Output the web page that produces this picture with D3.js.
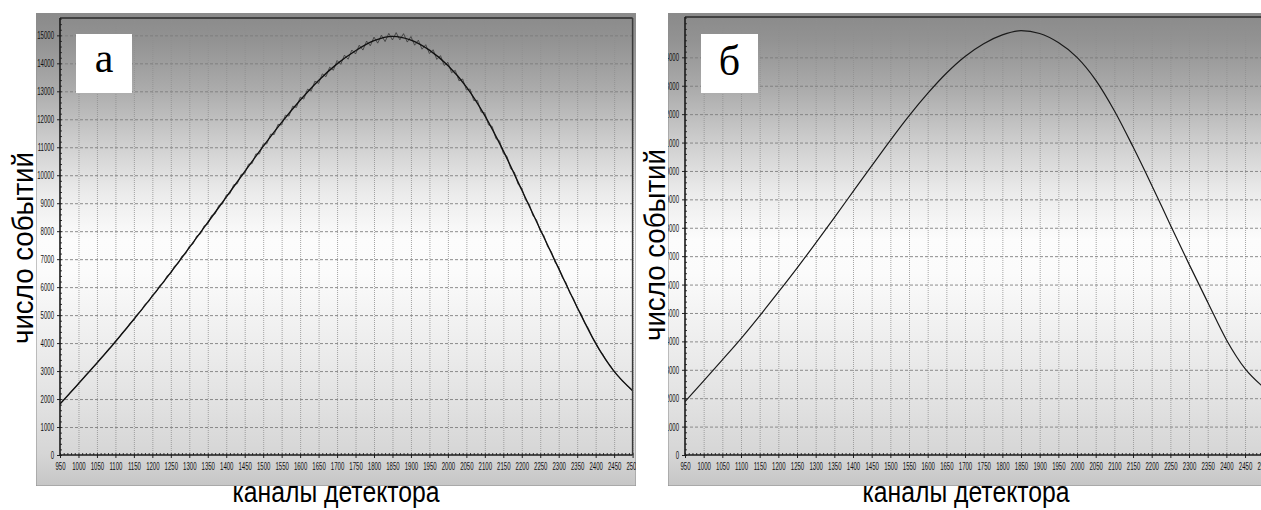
<!DOCTYPE html>
<html><head><meta charset="utf-8">
<script src="https://cdn.jsdelivr.net/npm/d3@7"></script>
<style>html,body{margin:0;padding:0;background:#fff;overflow:hidden}</style>
</head><body><svg id="c" width="1261" height="510"></svg>
<script>
// ---- data ----
const xTicks = [950,1000,1050,1100,1150,1200,1250,1300,1350,1400,1450,1500,1550,1600,1650,1700,1750,1800,1850,1900,1950,2000,2050,2100,2150,2200,2250,2300,2350,2400,2450,2500];
const yTicksA = [0,1000,2000,3000,4000,5000,6000,7000,8000,9000,10000,11000,12000,13000,14000,15000];
const yTicksB = [0,1000,2000,3000,4000,5000,6000,7000,8000,9000,10000,11000,12000,13000,14000];
// panel а: smooth core of the measured spectrum (one value per 50 channels)
const meanA = [1820,2550,3290,4050,4850,5680,6530,7410,8310,9220,10130,11030,11890,12680,13390,13980,14450,14810,14965,14830,14470,13920,13160,12130,10870,9470,8060,6660,5280,3990,2990,2300];
// panel а: noisy counts, one value per 10 channels from 950 to 2500
const noisyA = [
 1820,1978,2102,2273,2396,  2564,2686,2864,2979,3152,  3272,3462,3580,3768,3878,
 4075,4190,4398,4506,4720,  4820,5051,5157,5388,5479,  5720,5815,6065,6150,6410,
 6485,6756,6842,7113,7184,  7465,7540,7830,7895,8190,  8250,8557,8619,8926,8973,
 9290,9337,9659,9696,10028,  10050,10395,10415,10760,10765,  11120,11122,11469,11456,11818,
 11795,12148,12116,12469,12422,  12785,12722,13074,13011,13363,  13280,13623,13521,13864,13752,
 14100,13964,14293,14147,14476,  14335,14647,14474,14796,14628,  14935,14721,15002,14778,15069,
 14835,15097,14840,15060,14760,  14955,14648,14828,14505,14665,  14350,14485,14140,14275,13925,
 14035,13665,13750,13375,13440,  13050,13080,12670,12675,12255,  12230,11795,11745,11305,11230,
 10780,10680,10230,10115,9675,  9545,9118,8976,8559,8407,  8000,7840,7445,7275,6890,
 6710,6339,6153,5792,5596,  5245,5055,4730,4535,4225,  4015,3755,3585,3347,3190,
 2975,2847,2678,2565,2417,  2300];
const noisyChannels = d3.range(950, 2501, 10);
// panel б: smooth fitted curve (one value per 50 channels)
const meanB = [1880,2610,3350,4100,4900,5730,6580,7460,8360,9270,10180,11080,11940,12730,13440,14030,14480,14790,14940,14840,14520,14000,13200,12120,10850,9500,8100,6720,5380,4060,3040,2380];
const yTitle = "число событий";
const xTitle = "каналы детектора";

const svg = d3.select("#c");
const defs = svg.append("defs");
const grad = defs.append("linearGradient").attr("id","bg").attr("x1",0).attr("y1",0).attr("x2",0).attr("y2",1);
[[0,"#8a8a8a"],[0.06,"#939393"],[0.16,"#ababab"],[0.27,"#cdcdcd"],[0.38,"#ebebeb"],[0.48,"#fcfcfc"],[0.55,"#fbfbfb"],[0.68,"#efefef"],[0.82,"#e2e2e2"],[0.93,"#d6d6d6"],[1,"#c6c6c6"]]
  .forEach(([o,c]) => grad.append("stop").attr("offset",o).attr("stop-color",c));

const SX = 0.55; // horizontal squeeze of the tick labels (condensed font look)

function panel(id, cfg) {
  const {fx0, fx1, fy0, fy1, px0, px1, pt, pb, ymax, yTicks, letter, letterBox, letterBase, ytx, yty, xtx} = cfg;
  defs.append("clipPath").attr("id","f"+id).append("rect").attr("x",fx0).attr("y",fy0).attr("width",fx1-fx0).attr("height",fy1-fy0);
  defs.append("clipPath").attr("id","p"+id).append("rect").attr("x",px0).attr("y",pt).attr("width",px1-px0).attr("height",pb-pt);
  const g = svg.append("g").attr("clip-path",`url(#f${id})`);
  g.append("rect").attr("x",fx0).attr("y",fy0).attr("width",fx1-fx0).attr("height",fy1-fy0)
    .attr("fill","url(#bg)").attr("stroke","#8c8c8c").attr("stroke-width",1);
  const x = d3.scaleLinear().domain([950,2500]).range([px0,px1]);
  const y = d3.scaleLinear().domain([0,ymax]).range([pb,pt]);
  const gx = g.append("g").attr("transform",`translate(0,${pb})`)
    .call(d3.axisBottom(x).tickValues(xTicks.slice(1)).tickSize(-(pb-pt)).tickFormat(""));
  gx.select(".domain").remove();
  gx.selectAll("line").attr("stroke","#8f8f8f").attr("stroke-width",1).attr("stroke-dasharray","1,1").attr("opacity",0.8);
  const gy = g.append("g").attr("transform",`translate(${px0},0)`)
    .call(d3.axisLeft(y).tickValues(yTicks.slice(1)).tickSize(-(px1-px0)).tickFormat(""));
  gy.select(".domain").remove();
  gy.selectAll("line").attr("stroke","#7a7a7a").attr("stroke-width",1).attr("stroke-dasharray","3,2").attr("opacity",0.85);
  const pg = g.append("g").attr("clip-path",`url(#p${id})`);
  return {g, x, y, pg, draw() {
    const ax = g.append("g").attr("transform",`translate(0,${pb})`)
      .call(d3.axisBottom(x).tickValues(xTicks).tickSize(3).tickPadding(4).tickFormat(d3.format("d")));
    ax.select(".domain").remove();
    ax.selectAll("line").attr("stroke","#222");
    ax.selectAll("text").attr("font-family","Liberation Sans, Arial, sans-serif").attr("font-size",11).attr("fill","#111")
      .attr("transform",`scale(${SX},1)`);
    const axm = g.append("g").attr("transform",`translate(0,${pb})`)
      .call(d3.axisBottom(x).tickValues(d3.range(950,2501,10)).tickSize(-2).tickFormat(""));
    axm.select(".domain").remove();
    axm.selectAll("line").attr("stroke","#333");
    const ay = g.append("g").attr("transform",`translate(${px0},0)`)
      .call(d3.axisLeft(y).tickValues(yTicks).tickSize(3).tickPadding(3).tickFormat(d3.format("d")));
    ay.select(".domain").remove();
    ay.selectAll("line").attr("stroke","#222");
    ay.selectAll("text").attr("font-family","Liberation Sans, Arial, sans-serif").attr("font-size",11).attr("fill","#111")
      .attr("x", -6/SX).attr("transform",`scale(${SX},1)`);
    const aym = g.append("g").attr("transform",`translate(${px0},0)`)
      .call(d3.axisLeft(y).tickValues(d3.range(0,ymax,200)).tickSize(-2).tickFormat(""));
    aym.select(".domain").remove();
    aym.selectAll("line").attr("stroke","#333");
    g.append("line").attr("x1",px0).attr("x2",px1).attr("y1",pt).attr("y2",pt).attr("stroke","#2a2a2a").attr("stroke-width",1.5);
    g.append("line").attr("x1",px1).attr("x2",px1).attr("y1",pt).attr("y2",pb).attr("stroke","#3a3a3a").attr("stroke-width",1.5);
    g.append("line").attr("x1",px0).attr("x2",px0).attr("y1",pt).attr("y2",pb+1).attr("stroke","#1a1a1a").attr("stroke-width",1.6);
    g.append("line").attr("x1",px0).attr("x2",px1).attr("y1",pb).attr("y2",pb).attr("stroke","#1a1a1a").attr("stroke-width",1.6);
    svg.append("rect").attr("x",letterBox[0]).attr("y",letterBox[1]).attr("width",letterBox[2]).attr("height",letterBox[3]).attr("fill","#fff");
    svg.append("text").attr("x",letterBox[0]+letterBox[2]/2).attr("y",letterBase).attr("text-anchor","middle")
      .attr("font-family","Liberation Serif, Times New Roman, serif").attr("font-size",42).attr("fill","#000").text(letter);
    svg.append("text").attr("transform",`translate(${ytx},${yty}) rotate(-90)`).attr("text-anchor","middle")
      .attr("font-family","Liberation Sans, Arial, sans-serif").attr("font-size",30).attr("fill","#000")
      .attr("textLength",192).attr("lengthAdjust","spacingAndGlyphs").text(yTitle);
    svg.append("text").attr("x",xtx).attr("y",502).attr("text-anchor","middle")
      .attr("font-family","Liberation Sans, Arial, sans-serif").attr("font-size",30).attr("fill","#000")
      .attr("textLength",207).attr("lengthAdjust","spacingAndGlyphs").text(xTitle);
  }};
}

const A = panel("A", {fx0:36, fx1:636, fy0:13, fy1:486, px0:60, px1:632.6, pt:18, pb:455, ymax:15620, yTicks:yTicksA,
  letter:"а", letterBox:[76,34,56,59], letterBase:72, ytx:33, yty:248, xtx:336});
A.pg.append("path").datum(noisyChannels.map((c,i)=>[c,noisyA[i]]))
  .attr("fill","none").attr("stroke","#333").attr("stroke-width",0.9).attr("opacity",0.85)
  .attr("d", d3.line().x(d=>A.x(d[0])).y(d=>A.y(d[1])));
A.pg.append("path").datum(xTicks.map((c,i)=>[c,meanA[i]]))
  .attr("fill","none").attr("stroke","#111").attr("stroke-width",1.4)
  .attr("d", d3.line().curve(d3.curveMonotoneX).x(d=>A.x(d[0])).y(d=>A.y(d[1])));
A.draw();

const B = panel("B", {fx0:668, fx1:1290, fy0:13, fy1:486, px0:685, px1:1263.7, pt:17, pb:455, ymax:15420, yTicks:yTicksB,
  letter:"б", letterBox:[701,34,57,59], letterBase:75, ytx:665, yty:245, xtx:966});
B.pg.append("path").datum(xTicks.map((c,i)=>[c,meanB[i]]))
  .attr("fill","none").attr("stroke","#1a1a1a").attr("stroke-width",1.2)
  .attr("d", d3.line().curve(d3.curveMonotoneX).x(d=>B.x(d[0])).y(d=>B.y(d[1])));
B.draw();
</script></body></html>
